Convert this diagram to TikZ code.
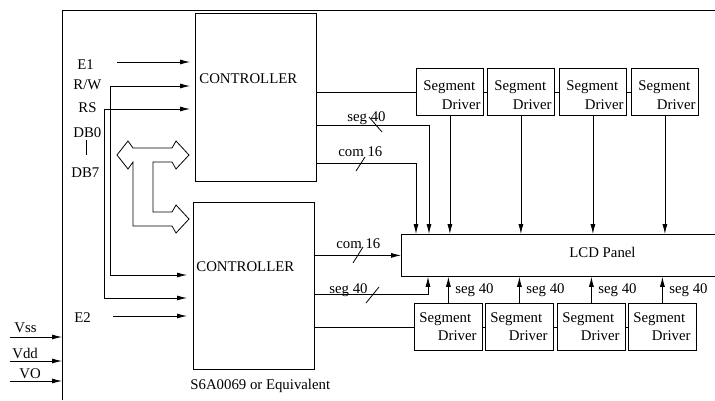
\documentclass[tikz,border=0pt]{standalone}
\usepackage{fontspec}
\setmainfont{Liberation Serif}
\usetikzlibrary{arrows.meta}
\tikzset{
  arr/.style={-{Latex[length=10pt,width=5pt]}},
  blk/.style={draw, rectangle, anchor=north west, inner sep=0pt},
  lbl/.style={inner sep=0pt, anchor=base west},
}
\begin{document}
\begin{tikzpicture}[x=1pt, y=-1pt, line width=0.8pt,
  every node/.style={font=\fontsize{14.8pt}{17pt}\selectfont}]
  \useasboundingbox (0,0) rectangle (715,400);
  \clip (0,0) rectangle (715,400);
  % module frame
  \draw (62,400) -- (62,10) -- (715,10);
  % controllers
  \node[blk, minimum width=121pt, minimum height=168pt] (ctl1) at (195,13) {};
  \node[blk, minimum width=121pt, minimum height=167pt] (ctl2) at (193,202) {};
  \node[lbl] (ctl1txt) at (199,83) {CONTROLLER};
  \node[lbl] (ctl2txt) at (196,271) {CONTROLLER};
  \node[lbl] (chip) at (190,389) {S6A0069 or Equivalent};
  % panel
  \node[blk, minimum width=330pt, minimum height=42pt] (lcd) at (401,234) {};
  \node[lbl] (lcdtxt) at (569,257) {LCD Panel};
  % upper segment drivers
  \foreach \i/\x in {1/416,2/487,3/559,4/631}{
    \node[blk, minimum width=67pt, minimum height=47pt] (sdt\i) at (\x,68) {};
    \node[lbl] (sdt\i a) at (\x+7,90) {Segment};
    \node[lbl, anchor=base east] (sdt\i b) at (\x+65,109) {Driver};
    \draw[arr] (sdt\i.south) -- (sdt\i.south |- lcd.north);
  }
  % lower segment drivers
  \foreach \i/\x in {1/414,2/485,3/557,4/628}{
    \node[blk, minimum width=68pt, minimum height=47pt] (sdb\i) at (\x,303) {};
    \node[lbl] (sdb\i a) at (\x+5,322) {Segment};
    \node[lbl, anchor=base east] (sdb\i b) at (\x+63,340) {Driver};
    \draw[arr] (sdb\i.north) -- (sdb\i.north |- lcd.south);
    \node[lbl] (sdb\i s) at (\x+41,293) {seg 40};
  }
  % driver chains
  \draw (ctl1.east |- sdt1.west) -- (sdt1.west);
  \draw (ctl2.east |- sdb1.west) -- (sdb1.west);
  \foreach \a/\b in {1/2,2/3,3/4}{
    \draw (sdt\a.east) -- (sdt\b.west);
    \draw (sdb\a.east) -- (sdb\b.west);
  }
  % seg / com buses
  \draw[arr] (ctl1.east |- 0,125) -| ([xshift=28pt]lcd.north west);
  \draw[arr] (ctl1.east |- 0,163) -| ([xshift=15pt]lcd.north west);
  \draw[arr] (ctl2.east |- lcd.west) -- (lcd.west);
  \draw[arr] (ctl2.east |- 0,294) -| ([xshift=27pt]lcd.south west);
  \draw (369,117) -- (382,132);
  \draw (365,157) -- (356,171);
  \draw (363,247) -- (353,263);
  \draw (379,287) -- (366,303);
  \node[lbl] (seg1) at (347,121) {seg 40};
  \node[lbl] (com1) at (338,156) {com 16};
  \node[lbl] (com2) at (336,248) {com 16};
  \node[lbl] (seg2) at (329,293) {seg 40};
  % control inputs
  \node[lbl] (e1) at (77,69) {E1};
  \node[lbl] (rw) at (73,89) {R/W};
  \node[lbl] (rs) at (78,112) {RS};
  \node[lbl] (db0) at (73,137) {DB0};
  \node[lbl] (db7) at (71,177) {DB7};
  \node[lbl] (e2) at (74,322) {E2};
  \draw (86,140) -- (86,155);
  \draw[arr, shorten >=5pt] (117,62) -- (ctl1.west |- 0,62);
  \draw[arr, shorten >=5pt] (110,86) -- (ctl1.west |- 0,86);
  \draw[arr, shorten >=6pt] (110,86) |- (ctl2.west |- 0,275);
  \draw[arr, shorten >=5pt] (104,109) -- (ctl1.west |- 0,109);
  \draw[arr, shorten >=6pt] (104,109) |- (ctl2.west |- 0,298);
  \draw[arr, shorten >=6pt] (113,316) -- (ctl2.west |- 0,316);
  % data bus
  \draw (117,155) -- (128,141) -- (133,148) -- (172,148) -- (176,141)
    -- (189,155) -- (176,169) -- (172,162) -- (153,162) -- (153,212)
    -- (172,212) -- (176,205) -- (189,219) -- (176,233) -- (172,226)
    -- (133,226) -- (133,162) -- (128,169) -- cycle;
  % supply
  \node[lbl] (vss) at (14,332) {Vss};
  \node[lbl] (vdd) at (12,358) {Vdd};
  \node[lbl] (vo) at (19,378) {VO};
  \draw[arr] (10,337) -- (62,337);
  \draw[arr] (10,361) -- (62,361);
  \draw[arr] (10,381) -- (62,381);
\end{tikzpicture}
\end{document}
